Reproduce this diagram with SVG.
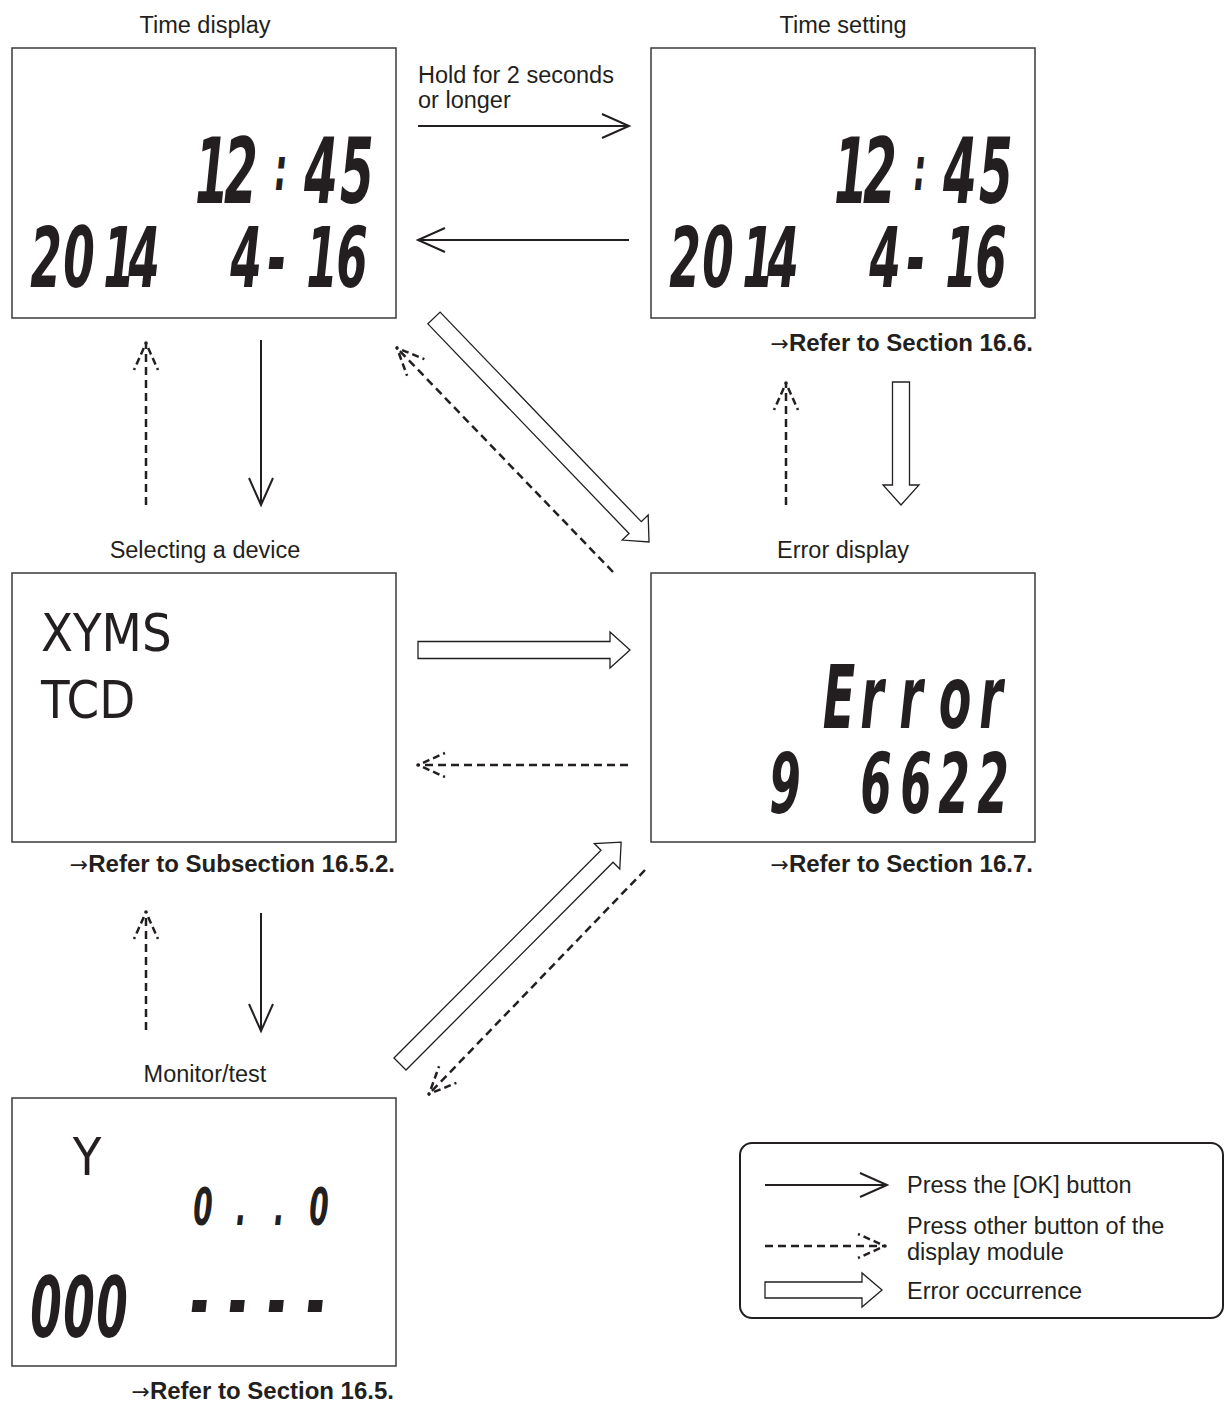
<svg xmlns="http://www.w3.org/2000/svg" width="1225" height="1403" viewBox="0 0 1225 1403">
<style>
  .title { font-family: "Liberation Sans", Arial, sans-serif; font-size: 23.5px; fill: #231f20; }
  .ref { font-family: "Liberation Sans", Arial, sans-serif; font-size: 24px; font-weight: bold; fill: #231f20; }
  .arr { font-family: "DejaVu Sans", sans-serif; font-weight: normal; font-size: 22px; }
  .box { fill: #ffffff; stroke: #3a3a3a; stroke-width: 1.5; }
  .lcd { font-family: "DejaVu Sans Condensed", "Liberation Sans Narrow", "Liberation Sans", sans-serif; font-style: italic; font-weight: bold; fill: #231f20; text-anchor: middle; }
  .narrow { font-family: "Liberation Sans Narrow", "DejaVu Sans Condensed", "Liberation Sans", sans-serif; fill: #231f20; }
  .solid { fill: none; stroke: #231f20; stroke-width: 2; }
  .dash { fill: none; stroke: #231f20; stroke-width: 2.5; stroke-dasharray: 8 5; }
  .hollow { fill: #ffffff; stroke: #231f20; stroke-width: 1.3; stroke-linejoin: miter; }
</style>
<defs>
  <marker id="openHead" markerUnits="userSpaceOnUse" viewBox="-30 -15 32 30" markerWidth="32" markerHeight="30" refX="0" refY="0" orient="auto" overflow="visible">
    <path d="M-27,-12 L0,0 L-27,12" fill="none" stroke="#231f20" stroke-width="2"/>
  </marker>
  <marker id="dashHead" markerUnits="userSpaceOnUse" viewBox="-30 -15 32 30" markerWidth="32" markerHeight="30" refX="0" refY="0" orient="auto" overflow="visible">
    <circle cx="0" cy="0" r="1.8" fill="#231f20"/>
    <path d="M-5,-2.2 L-27,-12 M-5,2.2 L-27,12" fill="none" stroke="#231f20" stroke-width="2.5" stroke-dasharray="7 4"/>
  </marker>
</defs>

<!-- Time display -->
<g id="node-time-display">
  <text class="title" x="205" y="33" text-anchor="middle">Time display</text>
  <rect class="box" x="12" y="48" width="384" height="270"/>
  <text class="lcd" transform="scale(0.6,1)"><tspan font-size="90" x="353.3 401.7" y="203">12</tspan><tspan font-size="60" x="468.3" y="190">:</tspan><tspan font-size="90" x="535 595" y="203">45</tspan><tspan font-size="84" x="76.7 131.7 198.3 240 410 461.7 536.7 586.7" y="287">20144-16</tspan></text>
</g>

<!-- Time setting -->
<g id="node-time-setting">
  <text class="title" x="843" y="33" text-anchor="middle">Time setting</text>
  <rect class="box" x="651" y="48" width="384" height="270"/>
  <text class="lcd" transform="scale(0.6,1)"><tspan font-size="90" x="1418.3 1466.7" y="203">12</tspan><tspan font-size="60" x="1533.3" y="190">:</tspan><tspan font-size="90" x="1600 1660" y="203">45</tspan><tspan font-size="84" x="1141.7 1196.7 1263.3 1305 1475 1526.7 1601.7 1651.7" y="287">20144-16</tspan></text>
  <text class="ref" x="1033" y="351" text-anchor="end"><tspan class="arr">→</tspan>Refer to Section 16.6.</text>
</g>

<!-- Selecting a device -->
<g id="node-selecting-device">
  <text class="title" x="205" y="558" text-anchor="middle">Selecting a device</text>
  <rect class="box" x="12" y="573" width="384" height="269"/>
  <text class="narrow" font-size="52" x="41" y="651">XYMS</text>
  <text class="narrow" font-size="52" x="41" y="718">TCD</text>
  <text class="ref" x="395" y="872" text-anchor="end"><tspan class="arr">→</tspan>Refer to Subsection 16.5.2.</text>
</g>

<!-- Error display -->
<g id="node-error-display">
  <text class="title" x="843" y="558" text-anchor="middle">Error display</text>
  <rect class="box" x="651" y="573" width="384" height="269"/>
  <text class="lcd" transform="scale(0.6,1)"><tspan font-size="88" x="1398.3 1453.3 1518.3 1591.7 1651.7" y="728">Error</tspan><tspan font-size="84" x="1308.3 1460 1526.7 1590 1655" y="813">96622</tspan></text>
  <text class="ref" x="1033" y="872" text-anchor="end"><tspan class="arr">→</tspan>Refer to Section 16.7.</text>
</g>

<!-- Monitor/test -->
<g id="node-monitor-test">
  <text class="title" x="205" y="1082" text-anchor="middle">Monitor/test</text>
  <rect class="box" x="12" y="1098" width="384" height="268"/>
  <text class="narrow" font-size="52" x="87" y="1175" text-anchor="middle">Y</text>
  <text class="lcd" transform="scale(0.6,1)"><tspan font-size="52" x="338.3 401.7 465 531.7" y="1225">0..0</tspan><tspan font-size="84" x="76.7 131.7 186.7" y="1337">000</tspan><tspan font-size="84" x="333.3 396.7 461.7 526.7" y="1330">----</tspan></text>
  <text class="ref" x="394" y="1399" text-anchor="end"><tspan class="arr">→</tspan>Refer to Section 16.5.</text>
</g>

<!-- Connectors -->
<g id="connectors">
  <text class="title" x="418" y="83">Hold for 2 seconds</text>
  <text class="title" x="418" y="108">or longer</text>
  <line class="solid" x1="418" y1="126" x2="629" y2="126" marker-end="url(#openHead)"/>
  <line class="solid" x1="629" y1="240" x2="418" y2="240" marker-end="url(#openHead)"/>
  <line class="solid" x1="261" y1="340" x2="261" y2="505" marker-end="url(#openHead)"/>
  <line class="solid" x1="261" y1="913" x2="261" y2="1031" marker-end="url(#openHead)"/>

  <line class="dash" x1="146" y1="505" x2="146" y2="343" marker-end="url(#dashHead)"/>
  <line class="dash" x1="146" y1="1030" x2="146" y2="912" marker-end="url(#dashHead)"/>
  <line class="dash" x1="786" y1="505" x2="786" y2="383" marker-end="url(#dashHead)"/>
  <line class="dash" x1="628" y1="765" x2="418" y2="765" marker-end="url(#dashHead)"/>
  <line class="dash" x1="613" y1="572" x2="397" y2="348" marker-end="url(#dashHead)"/>
  <line class="dash" x1="645" y1="870" x2="429" y2="1094" marker-end="url(#dashHead)"/>

  <path class="hollow" transform="translate(434,318) rotate(46.17)" d="M0,-8.5 H290.5 V-18 L310.5,0 L290.5,18 V8.5 H0 Z"/>
  <path class="hollow" transform="translate(400,1064) rotate(-45.1)" d="M0,-8.5 H293.3 V-18 L313.3,0 L293.3,18 V8.5 H0 Z"/>
  <path class="hollow" transform="translate(418,650)" d="M0,-8.5 H192 V-18 L212,0 L192,18 V8.5 H0 Z"/>
  <path class="hollow" transform="translate(901,382) rotate(90)" d="M0,-8.5 H103 V-18 L123,0 L103,18 V8.5 H0 Z"/>
</g>

<!-- Legend -->
<g id="legend">
  <rect x="740" y="1143" width="483" height="175" rx="12" ry="12" fill="#ffffff" stroke="#231f20" stroke-width="2"/>
  <line class="solid" x1="765" y1="1185" x2="887" y2="1185" marker-end="url(#openHead)"/>
  <text class="title" x="907" y="1193">Press the [OK] button</text>
  <line class="dash" x1="765" y1="1246" x2="885" y2="1246" marker-end="url(#dashHead)"/>
  <text class="title" x="907" y="1234">Press other button of the</text>
  <text class="title" x="907" y="1260">display module</text>
  <path class="hollow" transform="translate(765,1290)" d="M0,-8 H97 V-17 L117,0 L97,17 V8 H0 Z"/>
  <text class="title" x="907" y="1299">Error occurrence</text>
</g>
</svg>
